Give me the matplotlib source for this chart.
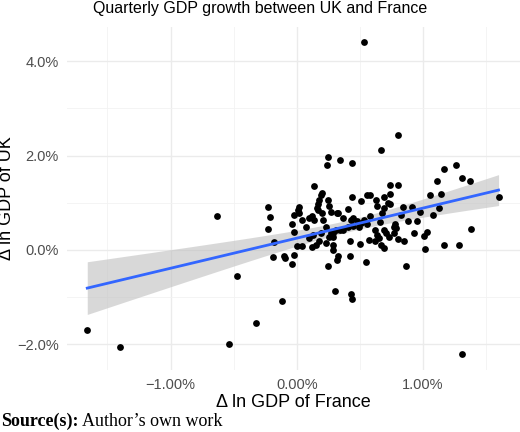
import numpy as np
import matplotlib
matplotlib.use("Agg")
import matplotlib.pyplot as plt
from matplotlib.ticker import FuncFormatter, MultipleLocator

france = [0.534,-1.66,-1.40,-0.63,-0.47,-0.54,-0.32,-0.12,1.31,0.80,0.67,0.25,0.24,0.34,0.44,1.26,1.17,1.31,1.37,1.11,
          1.60,1.38,1.17,1.29,1.02,0.87,0.55,0.30,0.43,0.44,0.25,0.42,0.32,0.33,0.29,-0.19,-0.10,-0.09,-0.04,-0.02,
          -0.23,-0.21,-0.23,-0.18,1.06,1.14,1.08,1.13,1.03,1.01,0.95,0.93,0.98,0.91,0.88,0.84,0.80,0.74,0.74,0.69,
          0.63,0.58,0.56,0.51,0.44,0.74,0.72,0.68,0.66,0.58,0.53,0.48,0.43,0.41,0.37,0.33,0.37,0.34,0.41,0.45,
          0.51,0.49,0.56,0.62,0.64,0.62,0.69,0.71,0.73,0.77,0.77,0.79,0.80,0.85,0.78,0.69,0.67,0.65,0.57,0.50,
          0.42,0.29,0.27,0.26,0.23,0.18,0.15,0.12,0.04,0.00,-0.02,-0.04,-0.02,0.01,0.02,0.02,0.04,0.07,0.10,0.12,
          0.14,0.16,0.18,0.19,0.20,0.14,0.17,0.17,0.20,0.21,0.23,0.25,0.26,0.27,0.32,0.31,0.19,0.13,0.10,0.29,
          0.64,0.69,0.45,0.83,0.29]
uk = [4.41,-1.69,-2.06,0.72,-0.56,-1.99,-1.55,-1.09,-2.21,2.43,2.12,1.98,1.79,1.91,1.84,1.79,1.71,1.52,1.47,1.47,
      1.13,0.44,0.11,0.10,0.01,-0.35,-0.26,-0.87,-0.94,-1.04,-0.34,-0.12,-0.21,-0.13,-0.01,-0.14,-0.13,-0.18,-0.29,-0.11,
      0.92,0.70,0.45,0.16,1.16,1.19,0.74,0.88,0.37,0.30,0.61,0.35,0.81,0.90,0.61,0.92,1.37,1.37,1.18,1.13,
      1.06,1.16,1.16,1.04,1.13,0.97,0.99,0.78,0.60,0.71,0.64,0.61,0.64,0.87,0.67,0.78,0.42,0.42,0.49,0.51,
      0.58,0.49,0.56,0.42,0.32,0.18,0.42,0.35,0.28,0.35,0.49,0.46,0.23,0.20,0.55,0.04,0.11,0.25,0.21,0.12,
      0.19,0.27,0.35,0.28,0.14,0.18,0.11,0.07,0.08,0.08,0.39,0.54,0.74,0.85,0.92,0.78,0.64,0.49,0.67,0.72,
      0.64,0.88,1.06,1.16,1.21,1.35,0.97,0.85,0.78,0.64,0.49,1.06,0.93,0.81,0.78,0.42,0.35,0.32,0.25,0.11,
      0.94,0.88,0.67,0.74,0.35]

x = np.array(france); y = np.array(uk)
n = len(x)
b, a = np.polyfit(x, y, 1)
xs = np.linspace(x.min(), x.max(), 100)
ys = a + b*xs
res = y - (a + b*x)
s = np.sqrt(np.sum(res**2)/(n-2))
se = s*np.sqrt(1/n + (xs-x.mean())**2/np.sum((x-x.mean())**2))
t = 1.975

plt.rcParams['font.family'] = ['Liberation Sans', 'DejaVu Sans']
fig = plt.figure(figsize=(5.2, 4.32), dpi=100)
ax = fig.add_axes([0.129, 0.144, 0.871, 0.794])
ax.fill_between(xs, ys-t*se, ys+t*se, color="#bfbfbf", alpha=0.6, lw=0, zorder=2)
ax.scatter(x, y, s=24, color="black", zorder=3, linewidths=0)
ax.plot(xs, ys, color="#3366FF", lw=2, zorder=4)
ax.set_xlim(-1.82, 1.77)
ax.set_ylim(-2.54, 4.73)
ax.xaxis.set_major_locator(MultipleLocator(1.0))
ax.xaxis.set_minor_locator(MultipleLocator(0.5))
ax.yaxis.set_major_locator(MultipleLocator(2.0))
ax.yaxis.set_minor_locator(MultipleLocator(1.0))
ax.xaxis.set_major_formatter(FuncFormatter(lambda v, p: f"{v:.2f}%".replace("-", "\u2212")))
ax.yaxis.set_major_formatter(FuncFormatter(lambda v, p: f"{v:.1f}%".replace("-", "\u2212")))
ax.grid(True, which="major", color="#ebebeb", lw=1.0, zorder=0)
ax.grid(True, which="minor", color="#f2f2f2", lw=0.6, zorder=0)
for sp in ax.spines.values():
    sp.set_visible(False)
ax.tick_params(which="both", length=0, labelsize=10.5, labelcolor="#4d4d4d", pad=6)
ax.set_axisbelow(True)
ax.set_xlabel("\u0394 ln GDP of France", fontsize=13, labelpad=1)
ax.set_ylabel("\u0394 ln GDP of UK", fontsize=13)
ax.yaxis.set_label_coords(-0.115, 0.5)
fig.suptitle("Quarterly GDP growth between UK and France", y=0.998, fontsize=11.5)
fig.text(0.003, 0.015, "Source(s):", fontsize=13, family="Liberation Serif", weight="bold")
fig.text(0.158, 0.015, "Author\u2019s own work", fontsize=13, family="Liberation Serif")
fig.savefig("out.png", dpi=100)
